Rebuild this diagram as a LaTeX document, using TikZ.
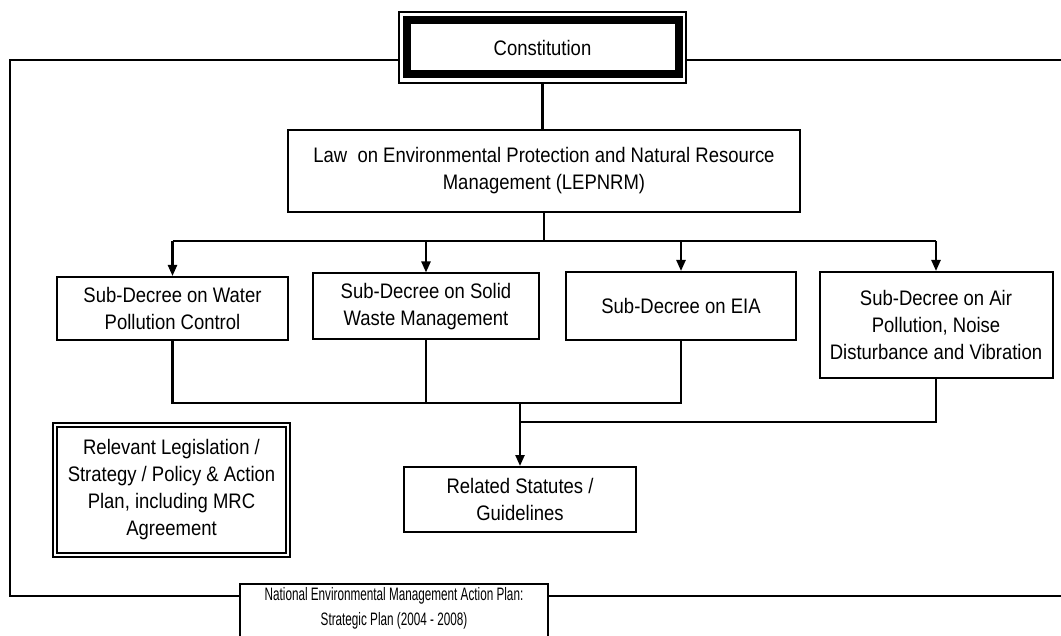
\documentclass[tikz,border=0pt]{standalone}
\usepackage{fontspec}
\setmainfont[FakeStretch=0.88]{Liberation Sans}
\usetikzlibrary{arrows.meta}
\newcommand{\narrowtxt}[1]{\scalebox{0.74}[1]{#1}}
\begin{document}
\begin{tikzpicture}[x=1pt,y=-1pt,
  txt/.style={align=center,font=\fontsize{21}{27}\selectfont},
  box/.style={txt,draw,line width=2pt,fill=white,inner sep=0pt},
  ln/.style={line width=2.3pt},
  arr/.style={line width=2.3pt,-{Triangle[length=11pt,width=9pt]}}]
\useasboundingbox (0,0) rectangle (1061,636);
\fill[white] (0,0) rectangle (1061,636);
% outer frame (right side lies beyond the picture)
\draw[line width=2.4pt] (1061,60) -- (10,60) -- (10,596) -- (1061,596);
% Constitution
\node[draw,fill=white,line width=1.6pt,minimum width=287pt,minimum height=71pt,inner sep=0pt] (conouter) at (542.5,47.5) {};
\node[box,line width=8pt,minimum width=272pt,minimum height=54pt] (con) at (conouter.center) {Constitution};
% Law
\node[box,minimum width=512pt,minimum height=82pt] (law) at (544,171)
  {Law\ \ on Environmental Protection and Natural Resource\\Management (LEPNRM)};
% Sub-decrees
\node[box,minimum width=231pt,minimum height=63pt] (wat) at (172.5,308.5) {Sub-Decree on Water\\Pollution Control};
\node[box,minimum width=226pt,minimum height=66pt] (sol) at (426,306.5) {Sub-Decree on Solid\\Waste Management};
\node[box,minimum width=230pt,minimum height=68pt] (eia) at (681,306) {Sub-Decree on EIA};
\node[box,minimum width=233pt,minimum height=106pt] (air) at (936,325) {Sub-Decree on Air\\Pollution, Noise\\Disturbance and Vibration};
% Related
\node[box,minimum width=232pt,minimum height=65pt] (rel) at (520,499.5) {Related Statutes /\\Guidelines};
% Relevant legislation
\node[box,double,line width=1.6pt,double distance=2pt,minimum width=233pt,minimum height=130pt] (leg) at (171.5,490)
  {Relevant Legislation /\\Strategy / Policy \& Action\\Plan, including MRC\\Agreement};
% NEMAP
\node[box,anchor=north,minimum width=308pt,minimum height=100pt,
  label={[align=center,font=\fontsize{18}{25.5}\selectfont,anchor=north,inner sep=0pt,yshift=-4pt]north:{\narrowtxt{National Environmental Management Action Plan:}\\\narrowtxt{Strategic Plan (2004 - 2008)}}}] (nemap) at (394,583) {};
% connectors
\draw[ln] (conouter.south) -- (conouter.south |- law.north);
\coordinate (j0) at (542,241);
\draw[ln] (law.south) -- (law.south |- j0);
\draw[ln] (wat.north |- j0) -- (air.north |- j0);
\foreach \n in {wat,sol,eia,air} \draw[arr] (\n.north |- j0) -- (\n.north);
\coordinate (j1) at (520,403);
\coordinate (j2) at (520,422);
\draw[ln] (wat.south) -- (wat.south |- j1) -- (eia.south |- j1) -- (eia.south);
\draw[ln] (sol.south) -- (sol.south |- j1);
\draw[ln] (air.south) -- (air.south |- j2) -- (j2);
\draw[arr] (j1) -- (rel.north);
\end{tikzpicture}
\end{document}
